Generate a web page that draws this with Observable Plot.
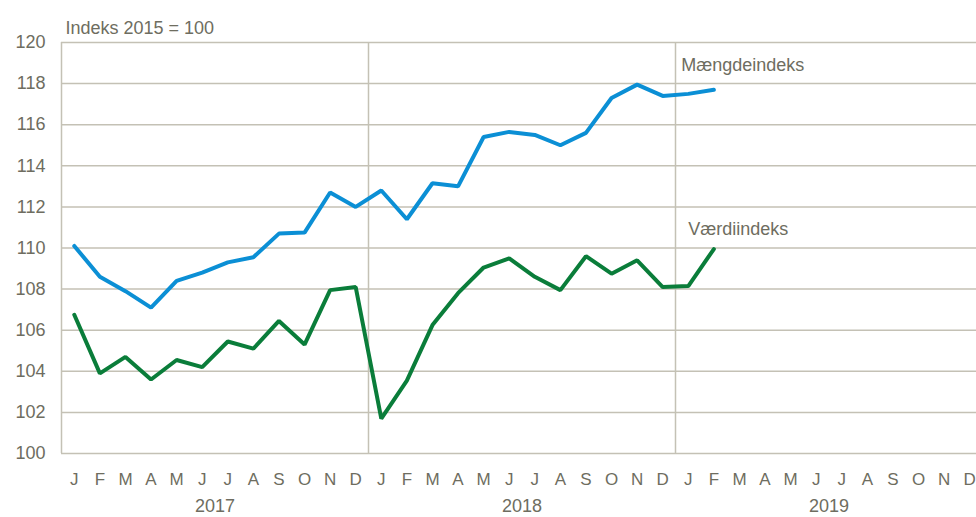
<!DOCTYPE html>
<html>
<head>
<meta charset="utf-8">
<script src="https://cdn.jsdelivr.net/npm/d3@7"></script>
<script src="https://cdn.jsdelivr.net/npm/@observablehq/plot@0.6"></script>
<style>
  html, body { margin: 0; padding: 0; background: #fff; overflow: hidden; }
  #chart svg { font-family: "Liberation Sans Narrow", "Arial Narrow", "Liberation Sans", Arial, sans-serif; }
</style>
</head>
<body>
<div id="chart"></div>
<script>
const monthLetters = ["J","F","M","A","M","J","J","A","S","O","N","D"];
const years = ["2017", "2018", "2019"];
const yTicks = [100, 102, 104, 106, 108, 110, 112, 114, 116, 118, 120];

// Jan 2017 .. Feb 2019
const maengdeindeks = [110.1, 108.6, 107.9, 107.1, 108.4, 108.8, 109.3, 109.55, 110.7, 110.75, 112.7, 112.0,
                       112.8, 111.4, 113.15, 113.0, 115.4, 115.65, 115.5, 115.0, 115.6, 117.3, 117.95, 117.4,
                       117.5, 117.7];
const vaerdiindeks = [106.75, 103.9, 104.7, 103.6, 104.55, 104.2, 105.45, 105.1, 106.45, 105.3, 107.95, 108.1,
                      101.7, 103.55, 106.25, 107.8, 109.05, 109.5, 108.6, 107.95, 109.6, 108.75, 109.4, 108.1,
                      108.15, 109.95];
const seriesNames = ["Mængdeindeks", "Værdiindeks"];
const colors = ["#0b8fd5", "#0a7d3a"];

const textColor = "#6e6d60";
const gridColor = "#c4c1b5";

const data = [
  ...maengdeindeks.map((v, i) => ({i, v, s: seriesNames[0]})),
  ...vaerdiindeks.map((v, i) => ({i, v, s: seriesNames[1]}))
];
const nMonths = years.length * 12;

const chart = Plot.plot({
  width: 976,
  height: 517,
  marginTop: 42,
  marginBottom: 64,
  marginLeft: 61,
  marginRight: 0,
  style: {fontSize: "18px", color: textColor, overflow: "hidden"},
  x: {domain: [-0.5, nMonths - 0.5], range: [61, 982], label: null},
  y: {domain: [100, 120], label: null},
  color: {domain: seriesNames, range: colors},
  marks: [
    Plot.ruleY(yTicks, {x1: -0.5, x2: nMonths - 0.5, stroke: gridColor, strokeWidth: 1.5}),
    Plot.ruleX([-0.5, 11.5, 23.5], {y1: 100, y2: 120, stroke: gridColor, strokeWidth: 1.5}),
    Plot.axisY(yTicks, {tickSize: 0, tickPadding: 16, fontSize: 18, fill: textColor, label: null}),
    Plot.axisX(d3.range(nMonths), {tickSize: 0, tickPadding: 19, fontSize: 17, fill: textColor, label: null,
      tickFormat: i => monthLetters[i % 12]}),
    Plot.text(years, {x: (d, k) => k * 12 + 5.5, y: 100, dy: 53, text: d => d, fontSize: 18, fill: textColor}),
    Plot.line(data, {x: "i", y: "v", z: "s", stroke: "s", strokeWidth: 4, strokeLinejoin: "miter"}),
    Plot.text([seriesNames[0]], {x: 24, y: 118.9, dx: -7, text: d => d, textAnchor: "start", fontSize: 18, fill: textColor}),
    Plot.text([seriesNames[1]], {x: 24, y: 110.9, dx: 0, text: d => d, textAnchor: "start", fontSize: 18, fill: textColor}),
    Plot.text(["Indeks 2015 = 100"], {frameAnchor: "top-left", dx: 4, dy: -21, text: d => d, textAnchor: "start", fontSize: 18, fill: textColor})
  ]
});
document.getElementById("chart").appendChild(chart);
</script>
</body>
</html>
